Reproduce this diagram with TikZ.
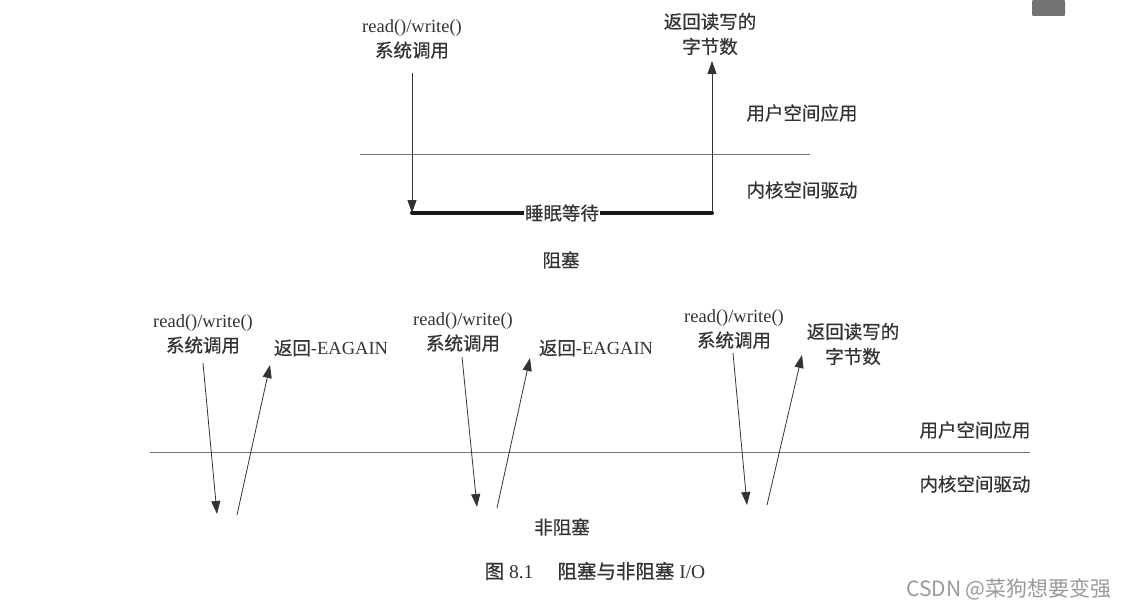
\documentclass[tikz,border=0pt]{standalone}
\usepackage{fontspec}
\setmainfont{Liberation Serif}
\newfontfamily\cjk{Noto Sans CJK SC}[FakeBold=0.6]
\newfontfamily\markfont{Noto Sans CJK SC}
\usetikzlibrary{arrows.meta}

\newcommand{\zh}[1]{{\cjk #1}}

\begin{document}
\begin{tikzpicture}[x=1pt, y=-1pt,
                    lbl/.style={text=black!80, font=\fontsize{18.5}{25}\selectfont, align=center, inner sep=1pt},
                    sys/.style={-{Triangle[length=13pt,width=9pt]}, black!80, line width=0.8pt},
                    divider/.style={black!55, line width=0.9pt},
                    sleep/.style={line width=4pt, black!90, line cap=round}]

            \useasboundingbox (0,0) rectangle (1122,607);
            \fill[black!55, rounded corners=1pt] (1032,0) rectangle (1065,16);

            % blocking
            \node[lbl] (call0) at (412,39) {read()/write()\\\zh{系统调用}};
            \node[lbl] (ret0)  at (710,34) {\zh{返回读写的}\\\zh{字节数}};
            \node[lbl] (user0) at (802,113) {\zh{用户空间应用}};
            \node[lbl] (kern0) at (802,190) {\zh{内核空间驱动}};
            \node[lbl] (blk)   at (561,260) {\zh{阻塞}};

            \coordinate (line0a) at (360,154);
            \coordinate (line0b) at (810,154);
            \coordinate (d0a) at (412,73);
            \coordinate (d0b) at (412,213);
            \coordinate (u0a) at (712,213);
            \coordinate (u0b) at (712,61);

            \draw[divider] (line0a) -- (line0b);
            \draw[sys] (d0a) -- (d0b);
            \draw[sys] (u0a) -- (u0b);
            \draw[sleep] (d0b) -- (u0a) node[midway, lbl, fill=white] (wait) {\zh{睡眠等待}};

            % non-blocking
            \node[lbl] (call1) at (203,334) {read()/write()\\\zh{系统调用}};
            \node[lbl] (ret1)  at (331,348) {\zh{返回}-EAGAIN};
            \node[lbl] (call2) at (463,332) {read()/write()\\\zh{系统调用}};
            \node[lbl] (ret2)  at (596,348) {\zh{返回}-EAGAIN};
            \node[lbl] (call3) at (734,329) {read()/write()\\\zh{系统调用}};
            \node[lbl] (ret3)  at (853,344) {\zh{返回读写的}\\\zh{字节数}};
            \node[lbl] (user1) at (975,430) {\zh{用户空间应用}};
            \node[lbl] (kern1) at (975,484) {\zh{内核空间驱动}};
            \node[lbl] (nblk)  at (562,527) {\zh{非阻塞}};

            \coordinate (line1a) at (150,452);
            \coordinate (line1b) at (1030,452);
            \coordinate (d1a) at (203,363);
            \coordinate (d1b) at (217,514);
            \coordinate (u1a) at (237,515);
            \coordinate (u1b) at (270,365);
            \coordinate (d2a) at (462,357);
            \coordinate (d2b) at (477,507);
            \coordinate (u2a) at (497,508);
            \coordinate (u2b) at (530,358);
            \coordinate (d3a) at (733,353);
            \coordinate (d3b) at (747,505);
            \coordinate (u3a) at (767,505);
            \coordinate (u3b) at (802,355);

            \draw[divider] (line1a) -- (line1b);
            \draw[sys] (d1a) -- (d1b);
            \draw[sys] (u1a) -- (u1b);
            \draw[sys] (d2a) -- (d2b);
            \draw[sys] (u2a) -- (u2b);
            \draw[sys] (d3a) -- (d3b);
            \draw[sys] (u3a) -- (u3b);

            % caption
            \node[lbl, font=\fontsize{19.5}{22}\selectfont] (cap) at (595,571) {\zh{图} 8.1\hspace{24pt}\zh{阻塞与非阻塞} I/O};
            \node[text=black!40, font=\markfont\fontsize{21}{24}\selectfont, inner sep=0pt] (mark) at (1009,589) {CSDN @菜狗想要变强};
        \end{tikzpicture}
\end{document}
